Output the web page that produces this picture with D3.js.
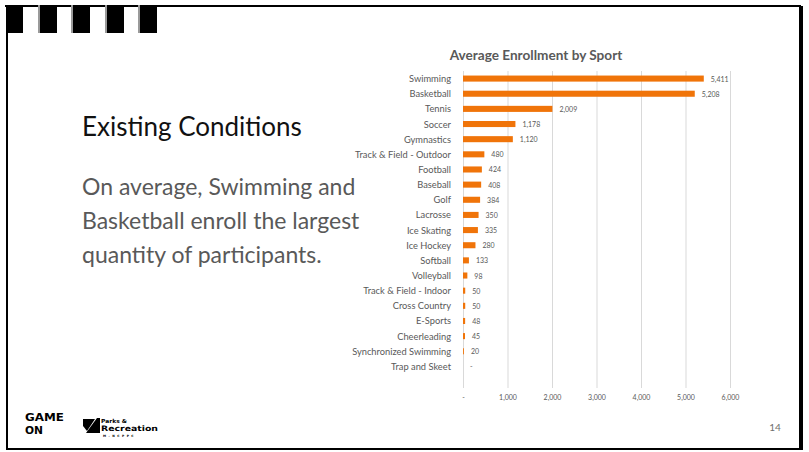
<!DOCTYPE html>
<html>
<head>
<meta charset="utf-8">
<script src="https://cdn.jsdelivr.net/npm/d3@7"></script>
<style>
  html, body { margin: 0; padding: 0; background: #fff; }
  svg { display: block; }
</style>
</head>
<body>
<svg id="slide" width="809" height="452"></svg>
<script>
// Enrollment by sport, sorted descending
const sports = [
  "Swimming", "Basketball", "Tennis", "Soccer", "Gymnastics",
  "Track & Field - Outdoor", "Football", "Baseball", "Golf", "Lacrosse",
  "Ice Skating", "Ice Hockey", "Softball", "Volleyball", "Track & Field - Indoor",
  "Cross Country", "E-Sports", "Cheerleading", "Synchronized Swimming", "Trap and Skeet"
];
const enrollment = [
  5411, 5208, 2009, 1178, 1120,
  480, 424, 408, 384, 350,
  335, 280, 133, 98, 50,
  50, 48, 45, 20, 0
];
const axisTicks = [0, 1000, 2000, 3000, 4000, 5000, 6000];

const chartTitle = "Average Enrollment by Sport";
const heading = "Existing Conditions";
const bodyLines = [
  "On average, Swimming and",
  "Basketball enroll the largest",
  "quantity of participants."
];
const pageNumber = "14";

const svg = d3.select("#slide");
const GRAY = "#595959";
const ORANGE = "#F07409";
const FONT = "Lato, 'Open Sans', sans-serif";
const fmt = v => v === 0 ? "-" : d3.format(",")(v);

// ---- slide frame ----
const frame = svg.append("g");
frame.append("rect").attr("x", 5).attr("y", 5).attr("width", 796).attr("height", 2).attr("fill", "#000");
frame.append("rect").attr("x", 6).attr("y", 5).attr("width", 2).attr("height", 445).attr("fill", "#000");
frame.append("rect").attr("x", 6).attr("y", 448).attr("width", 797).attr("height", 2).attr("fill", "#000");
frame.append("rect").attr("x", 799).attr("y", 6).attr("width", 4).attr("height", 444).attr("fill", "#000");
[6, 40, 73, 107, 140].forEach((bx, i) => {
  if (i > 0) frame.append("rect").attr("x", bx - 2).attr("y", 5).attr("width", 2).attr("height", 28).attr("fill", "#9a9a9a");
  frame.append("rect").attr("x", bx).attr("y", 5).attr("width", 17).attr("height", 28).attr("fill", "#000");
});

// ---- left text ----
svg.append("text")
  .attr("x", 82).attr("y", 136)
  .attr("font-family", FONT).attr("font-size", 26).attr("fill", "#111")
  .text(heading);

svg.append("g").selectAll("text").data(bodyLines).join("text")
  .attr("x", 82).attr("y", (d, i) => 195 + i * 34)
  .attr("font-family", FONT).attr("font-size", 23).attr("fill", GRAY)
  .text(d => d);

// ---- chart ----
const x = d3.scaleLinear().domain([0, 6000]).range([463, 730]);
const y = d3.scaleBand().domain(sports).range([71, 374]).padding(0);
const barH = y.bandwidth() * 0.4;
const gridBottom = 388;

svg.append("text")
  .attr("x", 536).attr("y", 60)
  .attr("text-anchor", "middle")
  .attr("font-family", FONT).attr("font-weight", "bold").attr("font-size", 13.6).attr("fill", GRAY)
  .text(chartTitle);

// vertical gridlines
svg.append("g").selectAll("line").data(axisTicks).join("line")
  .attr("x1", d => x(d) + 0.5).attr("x2", d => x(d) + 0.5)
  .attr("y1", 71).attr("y2", gridBottom)
  .attr("stroke", "#d9d9d9").attr("stroke-width", 1);

// value axis labels
const xAxis = d3.axisBottom(x).tickValues(axisTicks).tickFormat(fmt).tickSize(0).tickPadding(6);
const axisG = svg.append("g").attr("transform", `translate(0,${gridBottom + 1})`).call(xAxis);
axisG.select(".domain").remove();
axisG.selectAll("text")
  .attr("font-family", FONT).attr("font-size", 7).attr("fill", GRAY);

// category labels
svg.append("g").selectAll("text").data(sports).join("text")
  .attr("x", 451).attr("y", d => y(d) + y.bandwidth() / 2)
  .attr("text-anchor", "end").attr("dominant-baseline", "central")
  .attr("font-family", FONT).attr("font-size", 9.3).attr("fill", GRAY)
  .text(d => d);

const rows = sports.map((s, i) => ({ sport: s, value: enrollment[i] }));

// bars
svg.append("g").selectAll("rect").data(rows).join("rect")
  .attr("x", x(0))
  .attr("y", d => y(d.sport) + (y.bandwidth() - barH) / 2)
  .attr("width", d => x(d.value) - x(0))
  .attr("height", barH)
  .attr("fill", ORANGE);

// value labels
svg.append("g").selectAll("text").data(rows).join("text")
  .attr("x", d => x(d.value) + 7)
  .attr("y", d => y(d.sport) + y.bandwidth() / 2)
  .attr("dominant-baseline", "central")
  .attr("font-family", FONT).attr("font-size", 7).attr("fill", GRAY)
  .text(d => fmt(d.value));

// ---- footer ----
svg.append("text")
  .attr("x", 775).attr("y", 431).attr("text-anchor", "middle")
  .attr("font-family", FONT).attr("font-size", 10).attr("fill", "#6f6f6f")
  .text(pageNumber);

// "GAME ON" wordmark, two stacked lines
const game = svg.append("g")
  .attr("font-family", "'DejaVu Sans Condensed', 'DejaVu Sans', sans-serif")
  .attr("font-weight", "bold").attr("font-size", 11).attr("fill", "#000");
game.append("text").attr("x", 25).attr("y", 421).attr("textLength", 39).attr("lengthAdjust", "spacingAndGlyphs").text("GAME");
game.append("text").attr("x", 25).attr("y", 433.5).attr("textLength", 18).attr("lengthAdjust", "spacingAndGlyphs").text("ON");

// Parks & Recreation mark
const parks = svg.append("g").attr("fill", "#000");
parks.append("path").attr("d", "M83,419 L95,419 L87,431 L83,426 Z");
parks.append("path").attr("d", "M97,418 L100,418 L100,433 L86,433 Z");
const pf = parks.append("g").attr("font-family", "'DejaVu Sans', sans-serif").attr("font-weight", "bold");
pf.append("text").attr("x", 101).attr("y", 422.5).attr("font-size", 5.5).attr("textLength", 26).attr("lengthAdjust", "spacingAndGlyphs").text("Parks &");
pf.append("text").attr("x", 101).attr("y", 431).attr("font-size", 7.5).attr("textLength", 57).attr("lengthAdjust", "spacingAndGlyphs").text("Recreation");
pf.append("text").attr("x", 103).attr("y", 436.5).attr("font-size", 3).attr("letter-spacing", 2.5).text("M-NCPPC");
</script>
</body>
</html>
